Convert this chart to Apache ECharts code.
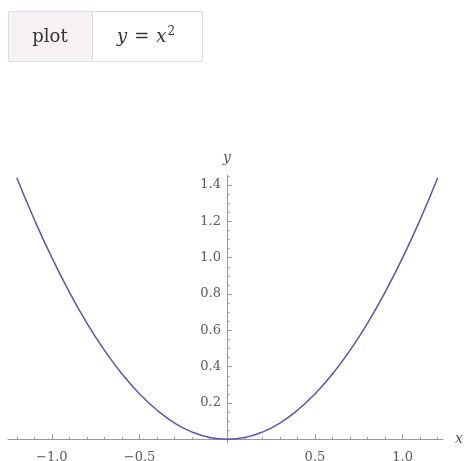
<!DOCTYPE html>
<html>
<head>
<meta charset="utf-8">
<title>plot y = x^2</title>
<script src="https://cdn.jsdelivr.net/npm/echarts@6/dist/echarts.min.js"></script>
<style>
html, body { margin: 0; padding: 0; background: #fff; }
#chart { width: 465px; height: 461px; }
</style>
</head>
<body>
<div id="chart"></div>
<script>
// points
var xValues = [-1.2, -1.1, -1.0, -0.9, -0.8, -0.7, -0.6, -0.5, -0.4, -0.3, -0.2, -0.1, 0,
               0.1, 0.2, 0.3, 0.4, 0.5, 0.6, 0.7, 0.8, 0.9, 1.0, 1.1, 1.2];
var yValues = [1.44, 1.21, 1.00, 0.81, 0.64, 0.49, 0.36, 0.25, 0.16, 0.09, 0.04, 0.01, 0,
               0.01, 0.04, 0.09, 0.16, 0.25, 0.36, 0.49, 0.64, 0.81, 1.00, 1.21, 1.44];

// tick positions
var xMajorTicks = [-1.0, -0.5, 0.5, 1.0];
var xMinorTicks = [-1.2, -1.1, -0.9, -0.8, -0.7, -0.6, -0.4, -0.3, -0.2, -0.1,
                   0.1, 0.2, 0.3, 0.4, 0.6, 0.7, 0.8, 0.9, 1.1, 1.2];
var yMajorTicks = [0.2, 0.4, 0.6, 0.8, 1.0, 1.2, 1.4];
var yMinorTicks = [0.05, 0.1, 0.15, 0.25, 0.3, 0.35, 0.45, 0.5, 0.55, 0.65, 0.7, 0.75,
                   0.85, 0.9, 0.95, 1.05, 1.1, 1.15, 1.25, 1.3, 1.35, 1.45];

var xMin = -1.25, xMax = 1.23;
var yMin = -0.02, yMax = 1.455;

var curve = xValues.map(function (x, i) { return [x, yValues[i]]; });

var gridLeft = 8, gridWidth = 435;
// y axis sits at x = 0, move it in from the grid's left edge
var yAxisOffset = -Math.round((0 - xMin) / (xMax - xMin) * gridWidth);

var axisGray = '#9a9a9a';
var labelGray = '#5a5a5a';
var serif = '"DejaVu Serif", "Liberation Serif", serif';

function fmt(v) {
    return v.toFixed(1).replace('-', '\u2212');
}

var chart = echarts.init(document.getElementById('chart'), null, { renderer: 'canvas' });

chart.setOption({
    animation: false,
    grid: { left: gridLeft, top: 175, width: gridWidth, height: 268, containLabel: false, outerBoundsMode: 'none' },
    xAxis: [
        {
            type: 'value', position: 'bottom', min: xMin, max: xMax,
            name: 'x', nameLocation: 'end', nameGap: 12,
            nameTextStyle: { fontFamily: serif, fontStyle: 'italic', fontSize: 14, color: '#555' },
            axisLine: { show: true, onZero: true, onZeroAxisIndex: 0, lineStyle: { color: axisGray, width: 1 } },
            axisTick: { show: true, inside: true, length: 5, customValues: xMajorTicks, lineStyle: { color: axisGray } },
            axisLabel: { show: true, customValues: xMajorTicks, formatter: fmt, margin: 8,
                fontFamily: serif, fontSize: 13, color: labelGray },
            splitLine: { show: false }
        },
        {
            type: 'value', position: 'bottom', min: xMin, max: xMax,
            axisLine: { show: false, onZero: true, onZeroAxisIndex: 0 },
            axisTick: { show: true, inside: true, length: 2.5, customValues: xMinorTicks, lineStyle: { color: axisGray } },
            axisLabel: { show: false },
            splitLine: { show: false }
        }
    ],
    yAxis: [
        {
            type: 'value', position: 'left', min: yMin, max: yMax, offset: yAxisOffset,
            name: 'y', nameLocation: 'end', nameGap: 10,
            nameTextStyle: { fontFamily: serif, fontStyle: 'italic', fontSize: 14, color: '#555', align: 'center' },
            axisLine: { show: true, onZero: false, lineStyle: { color: axisGray, width: 1 } },
            axisTick: { show: true, inside: true, length: 5, customValues: yMajorTicks, lineStyle: { color: axisGray } },
            axisLabel: { show: true, customValues: yMajorTicks, formatter: fmt, margin: 6,
                fontFamily: serif, fontSize: 13, color: labelGray },
            splitLine: { show: false }
        },
        {
            type: 'value', position: 'left', min: yMin, max: yMax, offset: yAxisOffset,
            axisLine: { show: false, onZero: false },
            axisTick: { show: true, inside: true, length: 2.5, customValues: yMinorTicks, lineStyle: { color: axisGray } },
            axisLabel: { show: false },
            splitLine: { show: false }
        }
    ],
    series: [
        {
            type: 'line',
            xAxisIndex: 0,
            yAxisIndex: 0,
            data: curve,
            smooth: true,
            showSymbol: false,
            lineStyle: { color: '#5757b0', width: 1.5 },
            z: 5
        }
    ],
    //header box: "plot | y = x^2"
    graphic: [
        {
            type: 'rect', left: 8, top: 11,
            shape: { width: 84, height: 50 },
            style: { fill: '#f5f1f5', stroke: '#dcdcdc', lineWidth: 1 }
        },
        {
            type: 'rect', left: 92, top: 11,
            shape: { width: 110, height: 50 },
            style: { fill: '#ffffff', stroke: '#dcdcdc', lineWidth: 1 }
        },
        {
            type: 'text', x: 50, y: 37,
            style: {
                text: 'plot', fill: '#333', font: '18px "DejaVu Serif", serif',
                align: 'center', verticalAlign: 'middle'
            }
        },
        {
            type: 'text', x: 146, y: 37,
            style: {
                text: '{i|y}{e|=}{i|x}{s|2}',
                fill: '#333', align: 'center', verticalAlign: 'middle',
                rich: {
                    i: { fontFamily: '"DejaVu Serif", serif', fontStyle: 'italic', fontSize: 18, fill: '#333' },
                    e: { fontFamily: '"DejaVu Serif", serif', fontSize: 18, fill: '#333', padding: [0, 7, 0, 7] },
                    s: { fontFamily: '"DejaVu Serif", serif', fontSize: 12, fill: '#333', verticalAlign: 'top', padding: [0, 0, 11, 1] }
                }
            }
        }
    ]
});
</script>
</body>
</html>
